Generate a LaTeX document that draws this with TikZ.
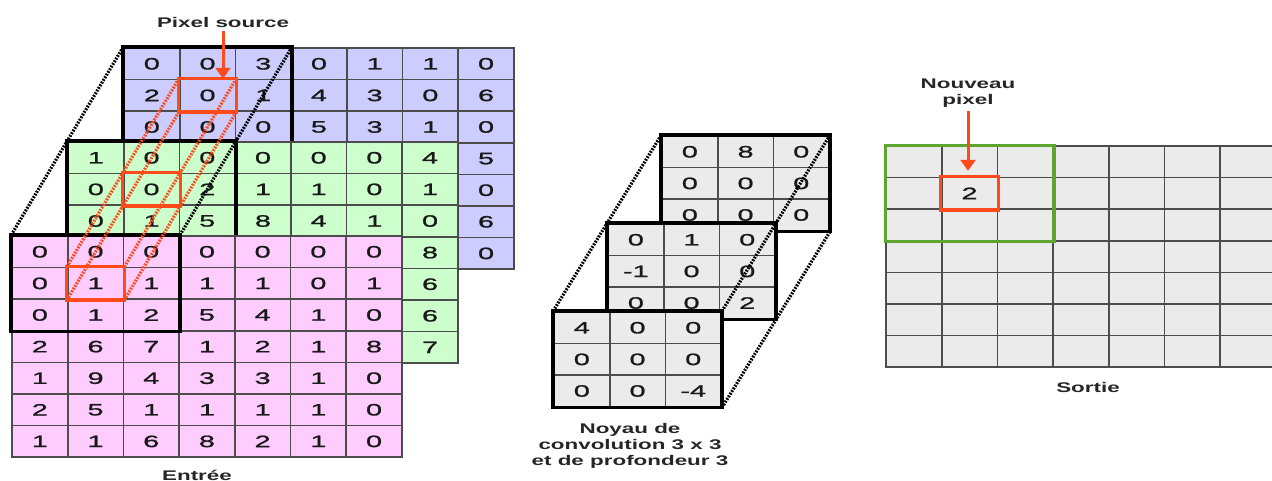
\documentclass[tikz,border=0pt]{standalone}
\usepackage{fontspec}
\usepackage{tikz}
\usetikzlibrary{arrows.meta, calc, positioning}
\setmainfont{Liberation Sans}
\newfontfamily\cellfont[FakeStretch=1.75, FakeBold=1.2]{Liberation Sans}
\newfontfamily\lblfont[FakeStretch=1.6]{Liberation Sans}
\definecolor{pinkfill}{HTML}{FFCCFF}
\definecolor{greenfill}{HTML}{CCFFCC}
\definecolor{bluefill}{HTML}{CCCCFF}
\definecolor{grayfill}{HTML}{EBEBEB}
\definecolor{hot}{HTML}{FF4A1C}
\definecolor{okgreen}{HTML}{5DA52E}
% one 3x3 or 7x7 slab of cells: name, left, top, fill, rows
\newcommand{\slab}[5]{%
  \foreach \row [count=\r from 0] in {#5} {
    \foreach \v [count=\c from 0] in \row {
      \node[cell, fill=#4] (#1-\r-\c) at (#2+\c*55.7+27.85, #3+\r*31.6+15.8) {\v};
    }
  }%
}
\tikzset{
  cell/.style   ={draw=black!70, line width=1.7pt, minimum width=55.7pt, minimum height=31.6pt, inner sep=0pt, font=\cellfont\fontsize{16.5}{16}\selectfont, text=black!90},
  frame/.style  ={draw=black, line width=3.4pt},
  gframe/.style ={draw=okgreen, line width=3.2pt},
  guide/.style  ={draw=black, line width=3.2pt, dash pattern=on 1.8pt off 1.3pt},
  oguide/.style ={guide, draw=hot},
  pick/.style   ={draw=hot, line width=3.2pt},
  parr/.style   ={-{Triangle[length=3.8mm, width=5.2mm]}, draw=hot, line width=3pt},
  lbl/.style    ={font=\lblfont\bfseries\fontsize{14}{16}\selectfont, text=black!85},
}

\begin{document}
\begin{tikzpicture}[x=1pt, y=-1pt]
  \useasboundingbox (0,0) rectangle (1272,481);
  \clip (0,0) rectangle (1272,481);

  % input, back to front
  \slab{b}{124}{48}{bluefill}{{0,0,3,0,1,1,0},{2,0,1,4,3,0,6},{0,0,0,5,3,1,0},{{},{},{},{},{},{},5},{{},{},{},{},{},{},0},{{},{},{},{},{},{},6},{{},{},{},{},{},{},0}}
  \draw[frame] (b-0-0.north west) rectangle (b-2-2.south east);
  \slab{g}{68}{142}{greenfill}{{1,0,0,0,0,0,4},{0,0,2,1,1,0,1},{0,1,5,8,4,1,0},{{},{},{},{},{},{},8},{{},{},{},{},{},{},6},{{},{},{},{},{},{},6},{{},{},{},{},{},{},7}}
  \draw[frame] (g-0-0.north west) rectangle (g-2-2.south east);
  \slab{p}{12}{236}{pinkfill}{{0,0,0,0,0,0,0},{0,1,1,1,1,0,1},{0,1,2,5,4,1,0},{2,6,7,1,2,1,8},{1,9,4,3,3,1,0},{2,5,1,1,1,1,0},{1,1,6,8,2,1,0}}
  \draw[frame] (p-0-0.north west) rectangle (p-2-2.south east);

  \draw[guide] (p-0-0.north west) -- (b-0-0.north west);
  \draw[guide] (p-0-2.north east) -- (b-0-2.north east);
  \foreach \k in {b,g,p} \draw[pick] (\k-1-1.north west) rectangle (\k-1-1.south east);
  \foreach \a in {north west, north east, south west, south east}
    \draw[oguide] (p-1-1.\a) -- (b-1-1.\a);

  \node[lbl] (src) at (223,22) {Pixel source};
  \draw[parr] (src.south) -- (src.south |- b-1-1.north);
  \node[lbl] (inlbl) at (197,475) {Entrée};

  % kernel
  \slab{kb}{662}{136}{grayfill}{{0,8,0},{0,0,0},{0,0,0}}
  \draw[frame] (kb-0-0.north west) rectangle (kb-2-2.south east);
  \slab{km}{608}{224}{grayfill}{{0,1,0},{-1,0,0},{0,0,2}}
  \draw[frame] (km-0-0.north west) rectangle (km-2-2.south east);
  \slab{kf}{554}{312}{grayfill}{{4,0,0},{0,0,0},{0,0,-4}}
  \draw[frame] (kf-0-0.north west) rectangle (kf-2-2.south east);
  \draw[guide] (kf-0-0.north west) -- (kb-0-0.north west);
  \draw[guide] (kf-0-2.north east) -- (kb-0-2.north east);
  \draw[guide] (kf-2-2.south east) -- (kb-2-2.south east);
  \node[lbl, align=center] (kerlbl) at (630,446) {Noyau de\\convolution 3 x 3\\et de profondeur 3};

  % output
  \slab{o}{886}{146}{grayfill}{{{},{},{},{},{},{},{}},{{},2,{},{},{},{},{}},{{},{},{},{},{},{},{}},{{},{},{},{},{},{},{}},{{},{},{},{},{},{},{}},{{},{},{},{},{},{},{}},{{},{},{},{},{},{},{}}}
  \draw[gframe] (o-0-0.north west) rectangle (o-2-2.south east);
  \draw[pick] (o-1-1.north west) rectangle (o-1-1.south east);
  \node[lbl, align=center] (newpx) at (968,93) {Nouveau\\pixel};
  \draw[parr] (newpx.south) -- ([yshift=6pt]newpx.south |- o-1-1.north);
  \node[lbl] (outlbl) at (1088,387) {Sortie};
\end{tikzpicture}
\end{document}
